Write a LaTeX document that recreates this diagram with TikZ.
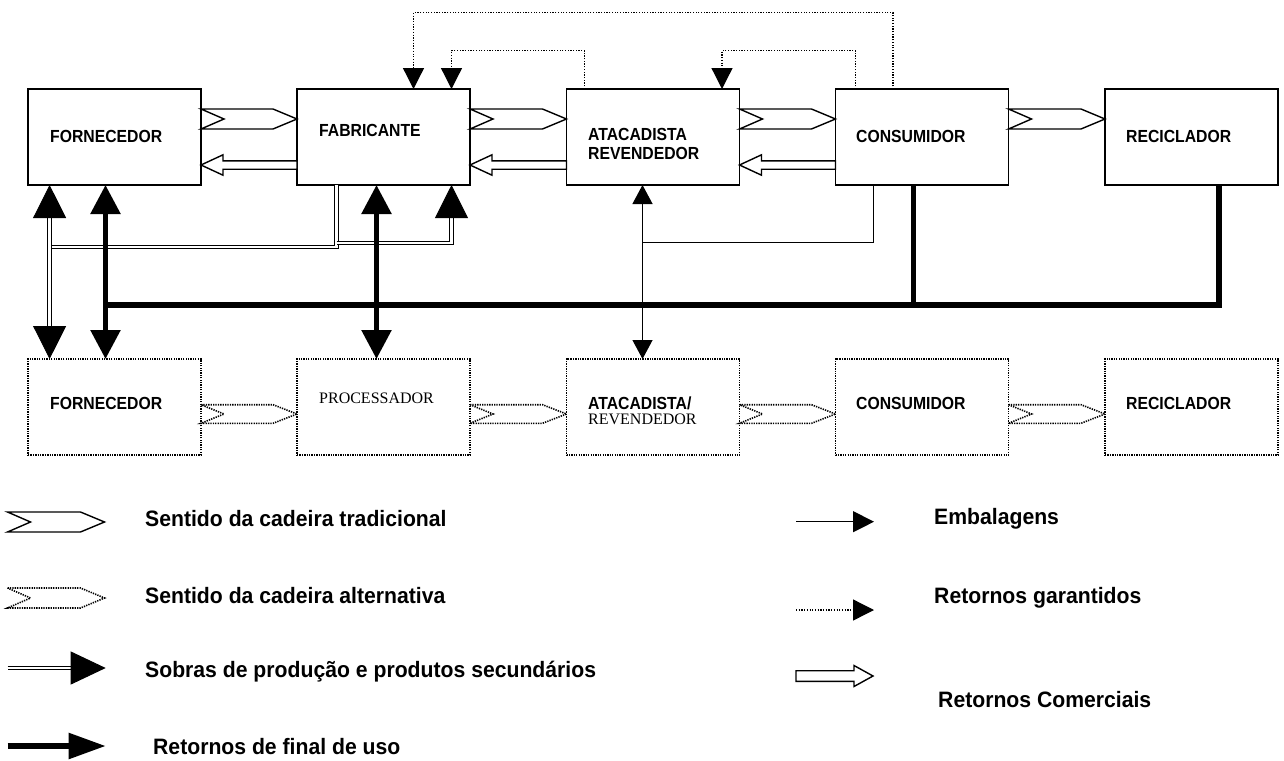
\documentclass[tikz,border=0pt]{standalone}
\usepackage{fontspec}
\setmainfont{Liberation Serif}
\setsansfont{Liberation Sans}
\newfontfamily\narrowsans[FakeStretch=0.9]{Liberation Sans}
\newfontfamily\keysans[FakeStretch=0.95]{Liberation Sans}
\usetikzlibrary{arrows.meta,calc}

% forward chevron: style, left point, right point, half height
\newcommand\tradchev[4]{%
  \draw[#1] ($(#2)+(0,-#4)$) -- ($(#3)+(-24,-#4)$) -- (#3) -- ($(#3)+(-24,#4)$)
    -- ($(#2)+(0,#4)$) -- ($(#2)+(23,0)$) -- cycle;}
% hollow arrow: style, tip, tail, signed head length, shaft half height, head half height
\newcommand\retarrow[6]{%
  \draw[#1] (#2) -- ($(#2)+(#4,-#6)$) -- ($(#2)+(#4,-#5)$) -- ($(#3)+(0,-#5)$)
    -- ($(#3)+(0,#5)$) -- ($(#2)+(#4,#5)$) -- ($(#2)+(#4,#6)$) -- cycle;}

\tikzset{
  box/.style={draw, line width=1.4pt, minimum width=173pt, minimum height=96pt,
    inner sep=0pt, outer sep=0pt},
  altbox/.style={box, line width=1.8pt, dash pattern=on 1.3pt off 1.1pt},
  boxtext/.style={font=\narrowsans\bfseries\fontsize{17.5}{19}\selectfont,
    inner sep=0pt, anchor=base west},
  serftext/.style={font=\rmfamily\fontsize{16}{19}\selectfont, inner sep=0pt,
    anchor=base west},
  legtext/.style={font=\keysans\bfseries\fontsize{22.3}{25}\selectfont,
    inner sep=0pt, anchor=base west},
  chev/.style={draw, line width=1.4pt},
  altchev/.style={draw, line width=1.6pt, dash pattern=on 1.3pt off 1.1pt},
  hollow/.style={draw, line width=1.4pt, fill=white},
  guar/.style={line width=1.3pt, dash pattern=on 1.2pt off 1.5pt,
    -{Triangle[length=21pt,width=21pt]}},
  pack/.style={line width=1.2pt},
  byprod/.style={double, double distance=2.6pt, line width=0.9pt},
  endret/.style={line width=5.5pt},
}

\begin{document}
\begin{tikzpicture}[x=1pt,y=-1pt]
\useasboundingbox (0,0) rectangle (1284,760);

% traditional chain
\node[box] (forn) at (114.5,137) {};
\node[box] (fabr) at (383.5,137) {};
\node[box] (atac) at (653,137) {};
\node[box] (cons) at (922,137) {};
\node[box] (reci) at (1191.5,137) {};
\node[boxtext] (tforn) at (50,142) {FORNECEDOR};
\node[boxtext] (tfabr) at (319,136) {FABRICANTE};
\node[boxtext] (tatac) at (588,140) {ATACADISTA};
\node[boxtext] (tatacb) at (588,159) {REVENDEDOR};
\node[boxtext] (tcons) at (856,142) {CONSUMIDOR};
\node[boxtext] (treci) at (1126,142) {RECICLADOR};

% alternative chain
\node[altbox] (forn2) at (114.5,407) {};
\node[altbox] (proc) at (383.5,407) {};
\node[altbox] (atac2) at (653,407) {};
\node[altbox] (cons2) at (922,407) {};
\node[altbox] (reci2) at (1191.5,407) {};
\node[boxtext] (tforn2) at (50,409) {FORNECEDOR};
\node[serftext] (tproc) at (319,403) {PROCESSADOR};
\node[boxtext] (tatac2) at (588,409) {ATACADISTA/};
\node[serftext] (tatac2b) at (588,424) {REVENDEDOR};
\node[boxtext] (tcons2) at (856,409) {CONSUMIDOR};
\node[boxtext] (treci2) at (1126,409) {RECICLADOR};

% reference levels
\coordinate (yT) at (0,119);
\coordinate (yR) at (0,165);
\coordinate (yB) at (0,414);
\coordinate (yG1) at (0,12.7);
\coordinate (yG2) at (0,50.7);
\coordinate (yS1) at (0,247);
\coordinate (yS2) at (0,243);
\coordinate (yP) at (0,242.7);
\coordinate (yE) at (0,305);

% forward flow, traditional chain
\foreach \a/\b in {forn/fabr, fabr/atac, atac/cons, cons/reci} {
  \path (\a.east |- yT) coordinate (s) (\b.west |- yT) coordinate (e);
  \tradchev{chev}{s}{e}{10}
}
% commercial returns
\foreach \a/\b in {forn/fabr, fabr/atac, atac/cons} {
  \path (\a.east |- yR) coordinate (s) (\b.west |- yR) coordinate (e);
  \retarrow{hollow}{s}{e}{22}{4.2}{10.2}
}
% forward flow, alternative chain
\foreach \a/\b in {forn2/proc, proc/atac2, atac2/cons2, cons2/reci2} {
  \path (\a.east |- yB) coordinate (s) (\b.west |- yB) coordinate (e);
  \tradchev{altchev}{s}{e}{9.3}
}

% guaranteed returns
\coordinate (g1s) at ($(cons.north west)+(57.6,0)$);
\coordinate (g1e) at ($(fabr.north west)+(116.5,0)$);
\coordinate (g2s) at ($(atac.north west)+(18,0)$);
\coordinate (g2e) at ($(fabr.north west)+(154.5,0)$);
\coordinate (g3s) at ($(cons.north west)+(20,0)$);
\coordinate (g3e) at ($(atac.north west)+(155.5,0)$);
\draw[guar] (g1s) -- (g1s |- yG1) -- (g1e |- yG1) -- (g1e);
\draw[guar] (g2s) -- (g2s |- yG2) -- (g2e |- yG2) -- (g2e);
\draw[guar] (g3s) -- (g3s |- yG2) -- (g3e |- yG2) -- (g3e);

% production leftovers and by-products
\coordinate (f1) at ($(forn.south west)+(21.6,0)$);
\coordinate (f1b) at ($(forn2.north west)+(21.6,0)$);
\coordinate (p1) at ($(fabr.south west)+(39.5,0)$);
\coordinate (p3) at ($(fabr.south west)+(154.5,0)$);
\draw[byprod] (p1) -- (p1 |- yS1) -- (f1 |- yS1);
\draw[byprod, -{Triangle[length=33pt,width=33pt]}] (p1 |- yS2) -- (p3 |- yS2) -- (p3);
\draw[byprod, {Triangle[length=33pt,width=33pt]}-{Triangle[length=33pt,width=33pt]}] (f1) -- (f1b);

% end-of-use returns
\coordinate (f2) at ($(forn.south west)+(77.5,0)$);
\coordinate (f2b) at ($(forn2.north west)+(77.5,0)$);
\coordinate (p2) at ($(fabr.south west)+(79.5,0)$);
\coordinate (p2b) at ($(proc.north west)+(79.5,0)$);
\coordinate (c2) at ($(cons.south west)+(78,0)$);
\coordinate (r1) at ($(reci.south west)+(114,0)$);
\draw[endret] (r1) -- (r1 |- yE) -- (f2 |- yE);
\draw[endret] (c2) -- (c2 |- yE);
\draw[endret, {Triangle[length=29pt,width=29pt]}-{Triangle[length=29pt,width=29pt]}] (f2) -- (f2b);
\draw[endret, {Triangle[length=29pt,width=29pt]}-{Triangle[length=29pt,width=29pt]}] (p2) -- (p2b);

% packaging
\coordinate (a1) at ($(atac.south west)+(76,0)$);
\coordinate (a1b) at ($(atac2.north west)+(76,0)$);
\coordinate (c1) at ($(cons.south west)+(38,0)$);
\draw[pack] (c1) -- (c1 |- yP) -- (a1 |- yP);
\draw[pack, {Triangle[length=19pt,width=20pt]}-{Triangle[length=19pt,width=20pt]}] (a1) -- (a1b);

% legend, left column
\coordinate (l1s) at (7.5,522);  \coordinate (l1e) at (104.5,522);
\coordinate (l2s) at (7.5,598);  \coordinate (l2e) at (104.5,598);
\coordinate (l3s) at (7.5,668);  \coordinate (l3e) at (105.7,668);
\coordinate (l4s) at (7.5,746);  \coordinate (l4e) at (105.7,746);
\tradchev{chev}{l1s}{l1e}{10}
\tradchev{altchev}{l2s}{l2e}{10}
\draw[byprod, -{Triangle[length=35pt,width=33pt]}] (l3s) -- (l3e);
\draw[endret, -{Triangle[length=37pt,width=25pt]}] (l4s) -- (l4e);
\node[legtext] (k1) at (145,526) {Sentido da cadeira tradicional};
\node[legtext] (k2) at (145,603) {Sentido da cadeira alternativa};
\node[legtext] (k3) at (145,677) {Sobras de produção e produtos secundários};
\node[legtext] (k4) at (153,754) {Retornos de final de uso};

% legend, right column
\coordinate (m1s) at (796,521.7); \coordinate (m1e) at (874,521.7);
\coordinate (m2s) at (796,610);   \coordinate (m2e) at (874,610);
\coordinate (m3s) at (796,676);   \coordinate (m3e) at (873,676);
\draw[pack, -{Triangle[length=21pt,width=21pt]}] (m1s) -- (m1e);
\draw[guar] (m2s) -- (m2e);
\retarrow{hollow}{m3e}{m3s}{-19}{5.3}{10.5}
\node[legtext] (n1) at (934,524) {Embalagens};
\node[legtext] (n2) at (934,603) {Retornos garantidos};
\node[legtext] (n3) at (938,707) {Retornos Comerciais};
\end{tikzpicture}
\end{document}
